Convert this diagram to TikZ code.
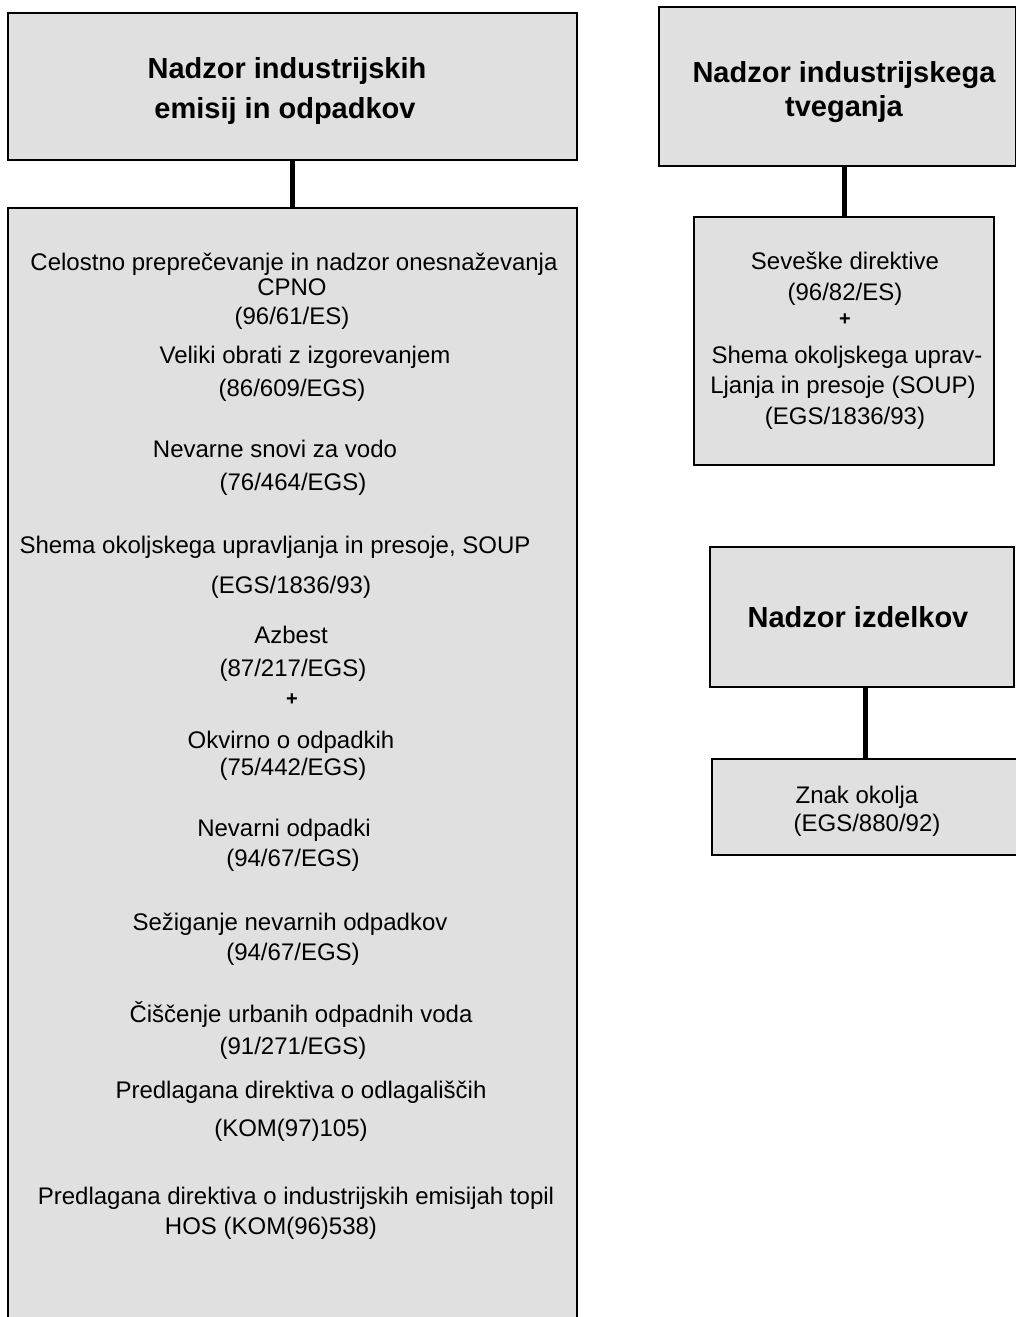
\documentclass[tikz,border=0pt]{standalone}
\usepackage{fontspec}
\setmainfont{Liberation Sans}
\definecolor{boxfill}{RGB}{224,224,224}
\begin{document}
\begin{tikzpicture}[x=1pt,y=-1pt,
  box/.style={draw=black, line width=2pt, fill=boxfill, rectangle, inner sep=0pt},
  link/.style={line width=5pt, black},
  txt/.style={font=\fontsize{24}{28}\selectfont, inner sep=0pt, text height=17pt, text depth=0pt, anchor=center},
  ttl/.style={font=\bfseries\fontsize{29}{34}\selectfont, inner sep=0pt, text height=21pt, text depth=0pt, anchor=center},
  plus/.style={font=\bfseries\fontsize{20}{24}\selectfont, inner sep=0pt, anchor=center}]
\useasboundingbox (0,0) rectangle (1016,1317);

% boxes
\node[box, minimum width=569pt, minimum height=147pt] (emTitle) at (292.5,86.5) {};
\node[box, minimum width=569pt, minimum height=1122pt] (emList) at (292.5,769) {};
\node[box, minimum width=357pt, minimum height=159pt] (riskTitle) at (837.5,86.5) {};
\node[box, minimum width=300pt, minimum height=248pt] (riskList) at (844,341) {};
\node[box, minimum width=304pt, minimum height=140pt] (prodTitle) at (862,617) {};
\node[box, minimum width=310pt, minimum height=96pt] (prodList) at (867,807) {};

% connectors
\draw[link] (emTitle.south) -- (emList.north);
\draw[link] (riskList.north |- riskTitle.south) -- (riskList.north);
\coordinate (prodTop) at ([xshift=3pt]prodTitle.south);
\draw[link] (prodTop) -- (prodTop |- prodList.north);

% headings
\node[ttl] (h1a) at (287,68) {Nadzor industrijskih};
\node[ttl] (h1b) at (285,108) {emisij in odpadkov};
\node[ttl] (h2a) at (844,72) {Nadzor industrijskega};
\node[ttl] (h2b) at (844,106) {tveganja};
\node[ttl] (h3) at (858,617) {Nadzor izdelkov};

% emissions and waste
\node[txt] (e1) at (294,262) {Celostno preprečevanje in nadzor onesnaževanja};
\node[txt] (e2) at (292,287) {CPNO};
\node[txt] (e3) at (292,316) {(96/61/ES)};
\node[txt] (e4) at (305,355) {Veliki obrati z izgorevanjem};
\node[txt] (e5) at (292,388) {(86/609/EGS)};
\node[txt] (e6) at (275,449) {Nevarne snovi za vodo};
\node[txt] (e7) at (293,482) {(76/464/EGS)};
\node[txt] (e8) at (275,545) {Shema okoljskega upravljanja in presoje, SOUP};
\node[txt] (e9) at (291,585) {(EGS/1836/93)};
\node[txt] (e10) at (291,635) {Azbest};
\node[txt] (e11) at (293,668) {(87/217/EGS)};
\node[plus] (e12) at (292,700) {+};
\node[txt] (e13) at (291,740) {Okvirno o odpadkih};
\node[txt] (e14) at (293,767) {(75/442/EGS)};
\node[txt] (e15) at (284,828) {Nevarni odpadki};
\node[txt] (e16) at (293,858) {(94/67/EGS)};
\node[txt] (e17) at (290,922) {Sežiganje nevarnih odpadkov};
\node[txt] (e18) at (293,952) {(94/67/EGS)};
\node[txt] (e19) at (301,1014) {Čiščenje urbanih odpadnih voda};
\node[txt] (e20) at (293,1046) {(91/271/EGS)};
\node[txt] (e21) at (301,1090) {Predlagana direktiva o odlagališčih};
\node[txt] (e22) at (291,1128) {(KOM(97)105)};
\node[txt] (e23) at (296,1196) {Predlagana direktiva o industrijskih emisijah topil};
\node[txt] (e24) at (271,1226) {HOS (KOM(96)538)};

% industrial risk
\node[txt] (r1) at (845,261) {Seveške direktive};
\node[txt] (r2) at (845,292) {(96/82/ES)};
\node[plus] (r3) at (845,320) {+};
\node[txt] (r4) at (847,355) {Shema okoljskega uprav-};
\node[txt] (r5) at (843,385) {Ljanja in presoje (SOUP)};
\node[txt] (r6) at (845,416) {(EGS/1836/93)};

% products
\node[txt] (p1) at (857,795) {Znak okolja};
\node[txt] (p2) at (867,823) {(EGS/880/92)};
\end{tikzpicture}
\end{document}
